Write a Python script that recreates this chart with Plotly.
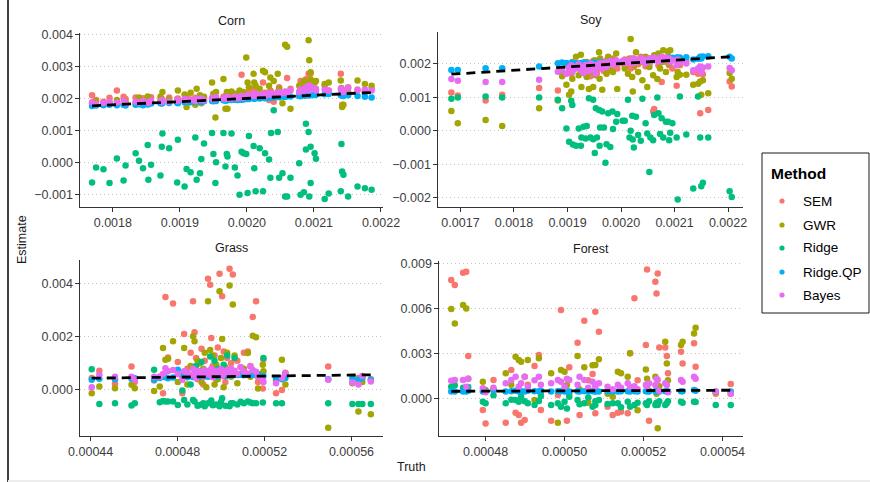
import plotly.graph_objects as go

W, H = 870, 482

methods = ["SEM", "GWR", "Ridge", "Ridge.QP", "Bayes"]
colors = ["#F8766D", "#A3A500", "#00BF7D", "#00B0F6", "#E76BF3"]

# ---------------- Corn ----------------
corn_truth = [0.001769, 0.001775, 0.001786, 0.001795, 0.001806, 0.001816, 0.001819, 0.001834, 0.001839, 0.001845,
              0.001852, 0.001853, 0.001857, 0.001871, 0.001873, 0.001874, 0.001884, 0.001896, 0.001897, 0.001907,
              0.001910, 0.001916, 0.001923, 0.001925, 0.001930, 0.001932, 0.001936, 0.001948, 0.001950, 0.001953,
              0.001954, 0.001965, 0.001968, 0.001970, 0.001971, 0.001977, 0.001982, 0.001986, 0.001989, 0.001992,
              0.001995, 0.001999, 0.002001, 0.002003, 0.002010, 0.002011, 0.002013, 0.002019, 0.002024, 0.002027,
              0.002033, 0.002035, 0.002036, 0.002040, 0.002046, 0.002048, 0.002053, 0.002057, 0.002060, 0.002065,
              0.002078, 0.002080, 0.002085, 0.002088, 0.002088, 0.002092, 0.002093, 0.002095, 0.002095, 0.002101,
              0.002103, 0.002116, 0.002122, 0.002140, 0.002141, 0.002142, 0.002144, 0.002151, 0.002165, 0.002176,
              0.002186]
corn_ridge = [-0.00063, -0.00016, -0.00022, -0.00065, 0.00012, -0.00057, -0.00010, 0.00028, 0.00005, -0.00019,
              0.00054, -0.00055, -0.00008, -0.00041, 0.00049, 0.00090, 0.00044, -0.00063, 0.00071, -0.00076,
              -0.00021, -0.00031, 0.00078, -0.00055, -0.00034, 0.00010, 0.00059, 0.00092, 0.00026, -0.00065,
              0.00000, 0.00092, -0.00013, 0.00026, 0.00018, 0.00090, -0.00016, -0.00041, -0.00102, 0.00033,
              0.00028, 0.00026, -0.00096, 0.00082, 0.00051, -0.00019, -0.00091, 0.00044, -0.00091, 0.00028,
              0.00009, -0.00048, 0.00092, 0.00163, 0.00095, -0.00048, -0.00034, -0.00107, -0.00107, -0.00048,
              -0.00003, -0.00102, -0.00094, 0.00040, 0.00121, 0.00095, -0.00107, 0.00049, -0.00065, 0.00028,
              0.00011, -0.00115, -0.00098, -0.00091, 0.00057, -0.00029, -0.00039, -0.00107, -0.00076, -0.00081,
              -0.00086]
corn_sem = [0.00210, 0.00195, 0.00190, 0.00202, 0.00225, 0.00205, 0.00198, 0.00203, 0.00196, 0.00201,
            0.00197, 0.00192, 0.00204, 0.00193, 0.00199, 0.00195, 0.00203, 0.00198, 0.00200, 0.00195,
            0.00206, 0.00197, 0.00202, 0.00199, 0.00208, 0.00196, 0.00201, 0.00199, 0.00210, 0.00203,
            0.00198, 0.00205, 0.00200, 0.00212, 0.00197, 0.00208, 0.00202, 0.00215, 0.00200, 0.00274,
            0.00205, 0.00210, 0.00198, 0.00220, 0.00205, 0.00230, 0.00212, 0.00202, 0.00250, 0.00218,
            0.00195, 0.00225, 0.00208, 0.00190, 0.00220, 0.00235, 0.00215, 0.00205, 0.00264, 0.00230,
            0.00220, 0.00255, 0.00240, 0.00260, 0.00225, 0.00277, 0.00245, 0.00235, 0.00279, 0.00250,
            0.00230, 0.00240, 0.00225, 0.00277, 0.00210, 0.00180, 0.00220, 0.00235, 0.00228, 0.00225,
            0.00230]
corn_gwr = [0.00185, 0.00192, 0.00180, 0.00188, 0.00195, 0.00182, 0.00190, 0.00186, 0.00203, 0.00185,
            0.00206, 0.00198, 0.00187, 0.00205, 0.00188, 0.00220, 0.00196, 0.00192, 0.00225, 0.00212,
            0.00173, 0.00218, 0.00180, 0.00230, 0.00210, 0.00185, 0.00205, 0.00250, 0.00215, 0.00140,
            0.00220, 0.00261, 0.00168, 0.00220, 0.00168, 0.00222, 0.00215, 0.00195, 0.00225, 0.00210,
            0.00220, 0.00328, 0.00250, 0.00235, 0.00277, 0.00250, 0.00240, 0.00230, 0.00287, 0.00282,
            0.00240, 0.00266, 0.00220, 0.00255, 0.00277, 0.00230, 0.00185, 0.00368, 0.00362, 0.00168,
            0.00240, 0.00230, 0.00255, 0.00220, 0.00245, 0.00382, 0.00320, 0.00282, 0.00260, 0.00250,
            0.00255, 0.00245, 0.00250, 0.00256, 0.00233, 0.00173, 0.00180, 0.00220, 0.00256, 0.00245,
            0.00240]
corn_qp = [0.00176, 0.00178, 0.00179, 0.00180, 0.00179, 0.00180, 0.00178, 0.00180, 0.00182, 0.00179,
           0.00181, 0.00183, 0.00184, 0.00185, 0.00184, 0.00186, 0.00186, 0.00187, 0.00185, 0.00188,
           0.00189, 0.00188, 0.00190, 0.00191, 0.00190, 0.00189, 0.00191, 0.00192, 0.00191, 0.00193,
           0.00192, 0.00194, 0.00193, 0.00195, 0.00194, 0.00195, 0.00196, 0.00195, 0.00197, 0.00196,
           0.00197, 0.00198, 0.00199, 0.00198, 0.00200, 0.00199, 0.00201, 0.00200, 0.00202, 0.00201,
           0.00202, 0.00203, 0.00204, 0.00203, 0.00205, 0.00204, 0.00206, 0.00205, 0.00207, 0.00206,
           0.00208, 0.00207, 0.00209, 0.00210, 0.00209, 0.00210, 0.00211, 0.00210, 0.00212, 0.00211,
           0.00212, 0.00213, 0.00214, 0.00210, 0.00211, 0.00212, 0.00208, 0.00210, 0.00208, 0.00205,
           0.00203]
corn_bayes = [0.00188, 0.00183, 0.00186, 0.00190, 0.00187, 0.00192, 0.00185, 0.00190, 0.00187, 0.00192,
              0.00188, 0.00186, 0.00193, 0.00191, 0.00189, 0.00194, 0.00190, 0.00195, 0.00192, 0.00198,
              0.00194, 0.00196, 0.00192, 0.00199, 0.00195, 0.00200, 0.00194, 0.00202, 0.00197, 0.00199,
              0.00204, 0.00200, 0.00198, 0.00205, 0.00202, 0.00199, 0.00206, 0.00201, 0.00203, 0.00208,
              0.00202, 0.00205, 0.00210, 0.00206, 0.00212, 0.00208, 0.00215, 0.00210, 0.00213, 0.00208,
              0.00216, 0.00212, 0.00218, 0.00214, 0.00210, 0.00220, 0.00216, 0.00222, 0.00218, 0.00225,
              0.00220, 0.00228, 0.00224, 0.00235, 0.00230, 0.00240, 0.00226, 0.00233, 0.00238, 0.00230,
              0.00225, 0.00228, 0.00224, 0.00230, 0.00225, 0.00228, 0.00220, 0.00232, 0.00226, 0.00228,
              0.00225]

# ---------------- Soy ----------------
soy_truth = [0.001683, 0.001695, 0.001747, 0.001778, 0.001847, 0.001882, 0.001890, 0.001898, 0.001903, 0.001907,
             0.001909, 0.001910, 0.001916, 0.001921, 0.001925, 0.001926, 0.001930, 0.001934, 0.001936, 0.001940,
             0.001943, 0.001948, 0.001948, 0.001951, 0.001953, 0.001955, 0.001959, 0.001960, 0.001961, 0.001965,
             0.001968, 0.001971, 0.001973, 0.001976, 0.001980, 0.001984, 0.001985, 0.001991, 0.001993, 0.002003,
             0.002007, 0.002013, 0.002016, 0.002018, 0.002021, 0.002022, 0.002024, 0.002028, 0.002032, 0.002037,
             0.002040, 0.002046, 0.002049, 0.002053, 0.002055, 0.002060, 0.002062, 0.002068, 0.002070, 0.002073,
             0.002076, 0.002079, 0.002084, 0.002088, 0.002090, 0.002092, 0.002096, 0.002104, 0.002106, 0.002110,
             0.002122, 0.002135, 0.002144, 0.002148, 0.002150, 0.002153, 0.002163, 0.002203, 0.002207]
soy_ridge = [0.00095, 0.00099, 0.00102, 0.00099, 0.00099, 0.00092, 0.00067, 0.00007, -0.00033, 0.00089,
             0.00077, -0.00041, -0.00045, 0.00007, -0.00045, -0.00020, 0.00012, -0.00023, 0.00014, 0.00097,
             -0.00020, 0.00092, -0.00025, -0.00066, 0.00067, -0.00020, 0.00062, -0.00045, 0.00010, 0.00057,
             0.00010, -0.00095, -0.00040, 0.00052, -0.00048, 0.00057, 0.00005, 0.00027, 0.00050, 0.00030,
             0.00030, 0.00092, -0.00020, 0.00000, 0.00045, -0.00026, -0.00050, 0.00042, -0.00013, -0.00030,
             0.00095, 0.00022, -0.00008, -0.00123, -0.00020, -0.00028, 0.00047, 0.00099, 0.00052, -0.00010,
             0.00037, -0.00020, 0.00027, 0.00027, -0.00028, -0.00006, 0.00022, -0.00020, -0.00205, 0.00102,
             -0.00011, -0.00172, 0.00102, -0.00020, -0.00165, -0.00155, -0.00020, -0.00180, -0.00197]
soy_sem = [0.00114, 0.00105, 0.00090, 0.00107, 0.00127, 0.00120, 0.00175, 0.00195, 0.00180, 0.00170,
           0.00205, 0.00188, 0.00192, 0.00200, 0.00175, 0.00185, 0.00195, 0.00168, 0.00205, 0.00190,
           0.00162, 0.00188, 0.00208, 0.00180, 0.00195, 0.00172, 0.00202, 0.00190, 0.00185, 0.00200,
           0.00178, 0.00195, 0.00210, 0.00188, 0.00200, 0.00192, 0.00215, 0.00205, 0.00185, 0.00200,
           0.00212, 0.00195, 0.00205, 0.00185, 0.00215, 0.00200, 0.00190, 0.00210, 0.00198, 0.00220,
           0.00205, 0.00192, 0.00215, 0.00200, 0.00212, 0.00057, 0.00065, 0.00220, 0.00195, 0.00210,
           0.00145, 0.00215, 0.00205, 0.00220, 0.00195, 0.00210, 0.00185, 0.00134, 0.00205, 0.00195,
           0.00208, 0.00175, 0.00170, 0.00052, 0.00180, 0.00168, 0.00062, 0.00147, 0.00132]
soy_gwr = [0.00059, 0.00022, 0.00032, 0.00014, 0.00067, 0.00090, 0.00162, 0.00137, 0.00107, 0.00117,
           0.00155, 0.00180, 0.00220, 0.00165, 0.00226, 0.00130, 0.00190, 0.00205, 0.00160, 0.00124,
           0.00195, 0.00175, 0.00130, 0.00210, 0.00165, 0.00185, 0.00234, 0.00155, 0.00215, 0.00122,
           0.00190, 0.00205, 0.00170, 0.00220, 0.00180, 0.00210, 0.00175, 0.00230, 0.00124, 0.00205,
           0.00185, 0.00170, 0.00215, 0.00273, 0.00160, 0.00117, 0.00195, 0.00234, 0.00175, 0.00205,
           0.00150, 0.00220, 0.00130, 0.00190, 0.00210, 0.00165, 0.00225, 0.00154, 0.00230, 0.00185,
           0.00205, 0.00240, 0.00175, 0.00236, 0.00200, 0.00240, 0.00215, 0.00160, 0.00175, 0.00167,
           0.00167, 0.00137, 0.00140, 0.00147, 0.00107, 0.00150, 0.00112, 0.00172, 0.00155]
soy_qp = [0.00181, 0.00181, 0.00186, 0.00186, 0.00191, 0.00201, 0.00203, 0.00202, 0.00198, 0.00200,
          0.00203, 0.00199, 0.00201, 0.00197, 0.00202, 0.00199, 0.00203, 0.00200, 0.00198, 0.00202,
          0.00200, 0.00203, 0.00199, 0.00201, 0.00202, 0.00200, 0.00203, 0.00200, 0.00204, 0.00201,
          0.00203, 0.00202, 0.00200, 0.00205, 0.00202, 0.00204, 0.00203, 0.00205, 0.00204, 0.00206,
          0.00205, 0.00207, 0.00206, 0.00208, 0.00207, 0.00209, 0.00208, 0.00209, 0.00210, 0.00209,
          0.00211, 0.00210, 0.00212, 0.00211, 0.00213, 0.00212, 0.00213, 0.00214, 0.00213, 0.00215,
          0.00214, 0.00215, 0.00216, 0.00215, 0.00217, 0.00216, 0.00217, 0.00218, 0.00217, 0.00218,
          0.00219, 0.00212, 0.00214, 0.00220, 0.00215, 0.00221, 0.00222, 0.00220, 0.00215]
soy_bayes = [0.00154, 0.00149, 0.00145, 0.00145, 0.00152, 0.00176, 0.00181, 0.00170, 0.00188, 0.00195,
             0.00175, 0.00192, 0.00185, 0.00198, 0.00180, 0.00190, 0.00172, 0.00196, 0.00185, 0.00178,
             0.00200, 0.00190, 0.00182, 0.00195, 0.00170, 0.00188, 0.00198, 0.00192, 0.00202, 0.00185,
             0.00195, 0.00205, 0.00190, 0.00200, 0.00208, 0.00197, 0.00203, 0.00210, 0.00200, 0.00208,
             0.00202, 0.00210, 0.00205, 0.00212, 0.00200, 0.00208, 0.00215, 0.00205, 0.00212, 0.00208,
             0.00215, 0.00202, 0.00210, 0.00216, 0.00205, 0.00212, 0.00218, 0.00210, 0.00215, 0.00208,
             0.00220, 0.00212, 0.00218, 0.00210, 0.00215, 0.00205, 0.00210, 0.00195, 0.00212, 0.00205,
             0.00200, 0.00180, 0.00185, 0.00191, 0.00175, 0.00188, 0.00191, 0.00187, 0.00180]

# ---------------- Grass ----------------
grass_truth = [0.0004405, 0.0004440, 0.0004512, 0.0004588, 0.0004603, 0.0004692, 0.0004718, 0.0004733, 0.0004744, 0.0004756,
               0.0004779, 0.0004801, 0.0004822, 0.0004830, 0.0004845, 0.0004860, 0.0004871, 0.0004878, 0.0004885, 0.0004892,
               0.0004901, 0.0004910, 0.0004918, 0.0004925, 0.0004932, 0.0004940, 0.0004950, 0.0004955, 0.0004962, 0.0004970,
               0.0004978, 0.0004985, 0.0004993, 0.0005000, 0.0005005, 0.0005012, 0.0005020, 0.0005028, 0.0005039, 0.0005046,
               0.0005054, 0.0005062, 0.0005075, 0.0005090, 0.0005105, 0.0005123, 0.0005135, 0.0005146, 0.0005161, 0.0005170,
               0.0005192, 0.0005195, 0.0005253, 0.0005280, 0.0005296, 0.0005493, 0.0005604, 0.0005632, 0.0005650, 0.0005689]
grass_ridge = [0.00078, -0.00053, -0.00050, -0.00059, -0.00050, 0.00076, -0.00047, -0.00042, -0.00044, -0.00044,
               -0.00044, -0.00057, -0.00002, -0.00038, -0.00055, 0.00020, -0.00038, -0.00044, 0.00090, -0.00060,
               -0.00057, 0.00105, -0.00050, -0.00062, 0.00060, -0.00050, 0.00126, -0.00040, -0.00058, 0.00110,
               -0.00055, 0.00080, -0.00062, -0.00045, -0.00032, 0.00095, -0.00060, 0.00130, -0.00062, -0.00050,
               -0.00050, 0.00120, -0.00055, -0.00045, -0.00050, -0.00044, -0.00048, -0.00050, -0.00050, 0.00060,
               -0.00048, 0.00120, -0.00050, -0.00050, 0.00060, -0.00050, -0.00053, -0.00053, -0.00053, -0.00053]
grass_sem = [0.00045, 0.00072, 0.00023, 0.00088, 0.00030, 0.00035, 0.00050, -0.00013, 0.00350, 0.00122,
             0.00326, 0.00105, -0.00013, 0.00211, 0.00080, 0.00140, 0.00334, 0.00217, 0.00120, 0.00040,
             0.00070, 0.00155, 0.00020, 0.00110, 0.00060, 0.00419, 0.00397, 0.00196, 0.00090, 0.00130,
             0.00040, 0.00160, 0.00438, 0.00075, 0.00353, 0.00145, 0.00030, 0.00120, 0.00457, 0.00100,
             0.00435, 0.00065, 0.00110, 0.00085, 0.00140, 0.00145, 0.00090, 0.00275, 0.00334, 0.00030,
             0.00005, 0.00115, -0.00013, 0.00000, 0.00065, 0.00088, 0.00030, 0.00045, 0.00050, 0.00040]
grass_gwr = [-0.00013, 0.00013, 0.00006, 0.00019, 0.00006, -0.00004, 0.00013, 0.00158, 0.00114, 0.00117,
             0.00183, 0.00030, 0.00050, 0.00158, 0.00020, 0.00090, 0.00202, 0.00183, 0.00060, 0.00110,
             0.00100, 0.00030, 0.00080, 0.00140, 0.00010, 0.00334, 0.00150, 0.00070, 0.00130, 0.00020,
             0.00095, 0.00040, 0.00372, 0.00120, 0.00192, 0.00010, 0.00085, 0.00140, 0.00394, 0.00050,
             0.00322, 0.00130, 0.00025, 0.00060, 0.00080, 0.00139, 0.00050, 0.00204, 0.00199, 0.00005,
             0.00095, 0.00070, 0.00035, 0.00114, 0.00020, -0.00143, 0.00025, -0.00082, 0.00030, -0.00092]
grass_qp = [0.00038, 0.00042, 0.00040, 0.00042, 0.00044, 0.00038, 0.00045, 0.00050, 0.00048, 0.00044,
            0.00047, 0.00076, 0.00055, 0.00050, 0.00048, 0.00052, 0.00049, 0.00051, 0.00050, 0.00053,
            0.00050, 0.00052, 0.00049, 0.00051, 0.00054, 0.00050, 0.00052, 0.00055, 0.00051, 0.00053,
            0.00050, 0.00054, 0.00052, 0.00055, 0.00053, 0.00056, 0.00052, 0.00055, 0.00054, 0.00056,
            0.00055, 0.00057, 0.00056, 0.00057, 0.00055, 0.00057, 0.00056, 0.00058, 0.00055, 0.00054,
            0.00050, 0.00052, 0.00044, 0.00040, 0.00045, 0.00040, 0.00045, 0.00038, 0.00045, 0.00038]
grass_bayes = [0.00010, 0.00057, 0.00050, 0.00050, 0.00038, 0.00050, 0.00050, 0.00060, 0.00082, 0.00070,
               0.00075, 0.00060, 0.00038, 0.00070, 0.00065, 0.00055, 0.00080, 0.00062, 0.00045, 0.00072,
               0.00058, 0.00068, 0.00050, 0.00075, 0.00062, 0.00070, 0.00055, 0.00080, 0.00048, 0.00066,
               0.00072, 0.00060, 0.00068, 0.00078, 0.00052, 0.00070, 0.00062, 0.00075, 0.00058, 0.00080,
               0.00065, 0.00072, 0.00060, 0.00085, 0.00070, 0.00062, 0.00088, 0.00075, 0.00068, 0.00050,
               0.00040, 0.00030, 0.00025, 0.00045, 0.00062, 0.00038, 0.00028, 0.00020, 0.00052, 0.00032]

# ---------------- Forest ----------------
forest_truth = [0.0004713, 0.0004722, 0.0004743, 0.0004751, 0.0004756, 0.0004793, 0.0004800, 0.0004820, 0.0004851, 0.0004865,
                0.0004876, 0.0004884, 0.0004890, 0.0004899, 0.0004907, 0.0004924, 0.0004935, 0.0004940, 0.0004966, 0.0004983,
                0.0004991, 0.0005000, 0.0005006, 0.0005012, 0.0005033, 0.0005038, 0.0005050, 0.0005060, 0.0005071, 0.0005078,
                0.0005078, 0.0005087, 0.0005109, 0.0005122, 0.0005135, 0.0005143, 0.0005160, 0.0005166, 0.0005177, 0.0005185,
                0.0005206, 0.0005209, 0.0005214, 0.0005230, 0.0005233, 0.0005236, 0.0005240, 0.0005255, 0.0005259, 0.0005262,
                0.0005295, 0.0005299, 0.0005328, 0.0005332, 0.0005383, 0.0005421]
forest_ridge = [0.00078, 0.00088, 0.00070, 0.00060, 0.00075, -0.00022, -0.00033, 0.00020, -0.00033, -0.00010,
                -0.00011, -0.00022, 0.00010, -0.00020, -0.00033, -0.00044, -0.00018, 0.00015, -0.00044, -0.00033,
                -0.00056, -0.00022, -0.00067, 0.00010, -0.00011, -0.00040, -0.00033, 0.00005, -0.00056, -0.00044,
                -0.00020, -0.00011, -0.00038, -0.00033, -0.00033, -0.00060, -0.00022, -0.00056, -0.00044, -0.00030,
                -0.00033, -0.00044, -0.00020, -0.00044, -0.00030, -0.00044, -0.00020, -0.00044, -0.00033, -0.00020,
                -0.00022, -0.00030, -0.00022, -0.00025, -0.00044, -0.00044]
forest_sem = [0.00789, 0.00756, 0.00838, 0.00844, 0.00282, -0.00078, -0.00167, 0.00122, -0.00162, 0.00189,
              -0.00096, -0.00111, -0.00162, -0.00144, 0.00090, 0.00216, 0.00289, -0.00078, -0.00149, 0.00022,
              0.00589, 0.00050, -0.00149, 0.00207, 0.00371, -0.00111, 0.00518, 0.00120, 0.00162, 0.00578,
              -0.00100, 0.00444, -0.00056, -0.00111, -0.00096, -0.00089, -0.00100, 0.00300, 0.00667, 0.00120,
              0.00356, 0.00860, -0.00149, 0.00778, 0.00700, 0.00833, 0.00340, 0.00340, 0.00282, 0.00167,
              0.00311, 0.00233, 0.00367, 0.00211, 0.00030, 0.00096]
forest_gwr = [0.00596, 0.00500, 0.00622, 0.00600, 0.00130, 0.00111, 0.00055, 0.00060, 0.00167, 0.00090,
              0.00278, 0.00256, 0.00244, 0.00144, 0.00256, -0.00011, 0.00267, 0.00040, 0.00167, -0.00162,
              0.00189, 0.00178, 0.00089, 0.00030, 0.00282, 0.00060, 0.00207, -0.00030, 0.00220, 0.00222,
              0.00050, 0.00260, 0.00030, 0.00011, 0.00178, 0.00167, 0.00144, 0.00300, 0.00055, -0.00080,
              0.00193, 0.00130, 0.00050, 0.00144, 0.00030, -0.00200, 0.00080, 0.00378, 0.00233, 0.00120,
              0.00356, 0.00378, 0.00433, 0.00471, 0.00040, 0.00030]
forest_qp = [0.00045, 0.00045, 0.00045, 0.00045, 0.00050, 0.00045, 0.00048, 0.00055, 0.00045, 0.00047,
             0.00050, 0.00045, 0.00048, 0.00046, 0.00050, 0.00048, 0.00047, 0.00050, 0.00046, 0.00048,
             0.00047, 0.00045, 0.00048, 0.00046, 0.00047, 0.00045, 0.00048, 0.00046, 0.00047, 0.00045,
             0.00047, 0.00046, 0.00047, 0.00045, 0.00046, 0.00047, 0.00048, 0.00046, 0.00047, 0.00045,
             0.00048, 0.00047, 0.00046, 0.00047, 0.00046, 0.00048, 0.00046, 0.00047, 0.00048, 0.00046,
             0.00047, 0.00048, 0.00055, 0.00050, 0.00045, 0.00045]
forest_bayes = [0.00118, 0.00122, 0.00122, 0.00078, 0.00130, 0.00067, 0.00040, 0.00070, 0.00100, 0.00122,
                0.00144, 0.00078, 0.00100, 0.00144, 0.00078, 0.00120, 0.00144, 0.00090, 0.00100, 0.00122,
                0.00111, 0.00078, 0.00130, 0.00122, 0.00090, 0.00144, 0.00122, 0.00070, 0.00111, 0.00089,
                0.00080, 0.00100, 0.00078, 0.00060, 0.00090, 0.00070, 0.00100, 0.00078, 0.00080, 0.00060,
                0.00089, 0.00080, 0.00100, 0.00089, 0.00130, 0.00122, 0.00050, 0.00100, 0.00089, 0.00040,
                0.00122, 0.00111, 0.00144, 0.00130, 0.00045, 0.00030]

# tick values
corn_xticks = [0.0018, 0.0019, 0.0020, 0.0021, 0.0022]
corn_yticks = [-0.001, 0.0, 0.001, 0.002, 0.003, 0.004]
soy_xticks = [0.0017, 0.0018, 0.0019, 0.0020, 0.0021, 0.0022]
soy_yticks = [-0.002, -0.001, 0.0, 0.001, 0.002]
grass_xticks = [0.00044, 0.00048, 0.00052, 0.00056]
grass_yticks = [0.0, 0.002, 0.004]
forest_xticks = [0.00048, 0.00050, 0.00052, 0.00054]
forest_yticks = [0.0, 0.003, 0.006, 0.009]

panels = [
    dict(name="Corn", truth=corn_truth, est=[corn_sem, corn_gwr, corn_ridge, corn_qp, corn_bayes],
         xdom=[80, 383], ydom=[33, 207], xr=[0.001751, 0.002203], yr=[-0.0014, 0.00405],
         xt=corn_xticks, yt=corn_yticks, xf=".4f", yf=".3f"),
    dict(name="Soy", truth=soy_truth, est=[soy_sem, soy_gwr, soy_ridge, soy_qp, soy_bayes],
         xdom=[438, 743], ydom=[32, 207], xr=[0.001658, 0.002228], yr=[-0.00227, 0.00294],
         xt=soy_xticks, yt=soy_yticks, xf=".4f", yf=".3f"),
    dict(name="Grass", truth=grass_truth, est=[grass_sem, grass_gwr, grass_ridge, grass_qp, grass_bayes],
         xdom=[80, 383], ydom=[260, 436], xr=[0.0004351, 0.0005745], yr=[-0.00174, 0.0049],
         xt=grass_xticks, yt=grass_yticks, xf=".5f", yf=".3f"),
    dict(name="Forest", truth=forest_truth, est=[forest_sem, forest_gwr, forest_ridge, forest_qp, forest_bayes],
         xdom=[439, 743], ydom=[261, 436], xr=[0.0004682, 0.0005452], yr=[-0.00251, 0.00916],
         xt=forest_xticks, yt=forest_yticks, xf=".5f", yf=".3f"),
]

FONT = "Liberation Sans, Arial, sans-serif"
fig = go.Figure()
layout = dict(
    width=W, height=H, margin=dict(l=0, r=0, t=0, b=0, autoexpand=False),
    paper_bgcolor="white", plot_bgcolor="white",
    font=dict(family=FONT, size=12, color="#3D3D3D"),
    showlegend=False,
)
annotations = []
shapes = []
tickfont = dict(family=FONT, size=12.5, color="#3D3D3D")

for i, p in enumerate(panels):
    k = "" if i == 0 else str(i + 1)
    xa, ya = "x" + k, "y" + k
    for j, m in enumerate(methods):
        fig.add_trace(go.Scatter(
            x=p["truth"], y=p["est"][j], mode="markers", name=m,
            legendgroup=m, showlegend=False,
            marker=dict(color=colors[j], size=6.5, line=dict(width=0)),
            xaxis=xa, yaxis=ya))
    fig.add_trace(go.Scatter(
        x=p["truth"], y=p["truth"], mode="lines", showlegend=False,
        line=dict(color="black", width=2.8, dash="9px,6px"),
        xaxis=xa, yaxis=ya, hoverinfo="skip"))
    layout["xaxis" + k] = dict(
        domain=[p["xdom"][0] / W, p["xdom"][1] / W], range=p["xr"], anchor=ya,
        tickvals=p["xt"], tickformat=p["xf"], showgrid=False, zeroline=False, automargin=False,
        showline=True, linecolor="#333333", linewidth=1.3,
        ticks="outside", ticklen=3.5, tickwidth=1.3, tickcolor="#333333", tickfont=tickfont)
    layout["yaxis" + k] = dict(
        domain=[1 - p["ydom"][1] / H, 1 - p["ydom"][0] / H], range=p["yr"], anchor=xa,
        tickvals=p["yt"], tickformat=p["yf"], showgrid=True, gridcolor="#C4C4C4",
        griddash="1px,3px", gridwidth=1, zeroline=False, automargin=False,
        showline=True, linecolor="#333333", linewidth=1.3,
        ticks="outside", ticklen=3.5, tickwidth=1.3, tickcolor="#333333", tickfont=tickfont)
    annotations.append(dict(
        text=p["name"], xref="paper", yref="paper",
        x=(p["xdom"][0] + p["xdom"][1]) / 2 / W, y=1 - (p["ydom"][0] - 12) / H,
        xanchor="center", yanchor="middle", showarrow=False,
        font=dict(family=FONT, size=12.5, color="#1A1A1A")))

annotations.append(dict(text="Estimate", xref="paper", yref="paper", x=22 / W, y=1 - 240 / H,
                        textangle=-90, showarrow=False, xanchor="center", yanchor="middle",
                        font=dict(family=FONT, size=12.5, color="#1A1A1A")))
annotations.append(dict(text="Truth", xref="paper", yref="paper", x=411 / W, y=1 - 467 / H,
                        showarrow=False, xanchor="center", yanchor="middle",
                        font=dict(family=FONT, size=12.5, color="#1A1A1A")))

# legend box (drawn by hand to fix its position)
shapes.append(dict(type="rect", xref="paper", yref="paper",
                   x0=762 / W, x1=869 / W, y0=1 - 313 / H, y1=1 - 153 / H,
                   line=dict(color="#1A1A1A", width=1), fillcolor="white"))
annotations.append(dict(text="<b>Method</b>", xref="paper", yref="paper", x=769 / W, y=1 - 173 / H,
                        xanchor="left", yanchor="middle", showarrow=False,
                        font=dict(family=FONT, size=15.5, color="#000000")))
legend_y = [201, 225, 248, 272, 295]
for j, m in enumerate(methods):
    yc = legend_y[j]
    shapes.append(dict(type="circle", xref="paper", yref="paper",
                       x0=(782 - 2.6) / W, x1=(782 + 2.6) / W,
                       y0=1 - (yc + 2.6) / H, y1=1 - (yc - 2.6) / H,
                       line=dict(width=0), fillcolor=colors[j]))
    annotations.append(dict(text=m, xref="paper", yref="paper", x=801 / W, y=1 - yc / H,
                            xanchor="left", yanchor="middle", showarrow=False,
                            font=dict(family=FONT, size=13.5, color="#000000")))

shapes += [
    dict(type="line", xref="paper", yref="paper", x0=8 / W, x1=8 / W, y0=0, y1=1,
         line=dict(color="#000000", width=1.5)),
    dict(type="rect", xref="paper", yref="paper", x0=8 / W, x1=1, y0=0, y1=2 / H,
         line=dict(width=0), fillcolor="#EDEDED"),
]
layout["annotations"] = annotations
layout["shapes"] = shapes
fig.update_layout(**layout)
fig.write_html("out.html")
